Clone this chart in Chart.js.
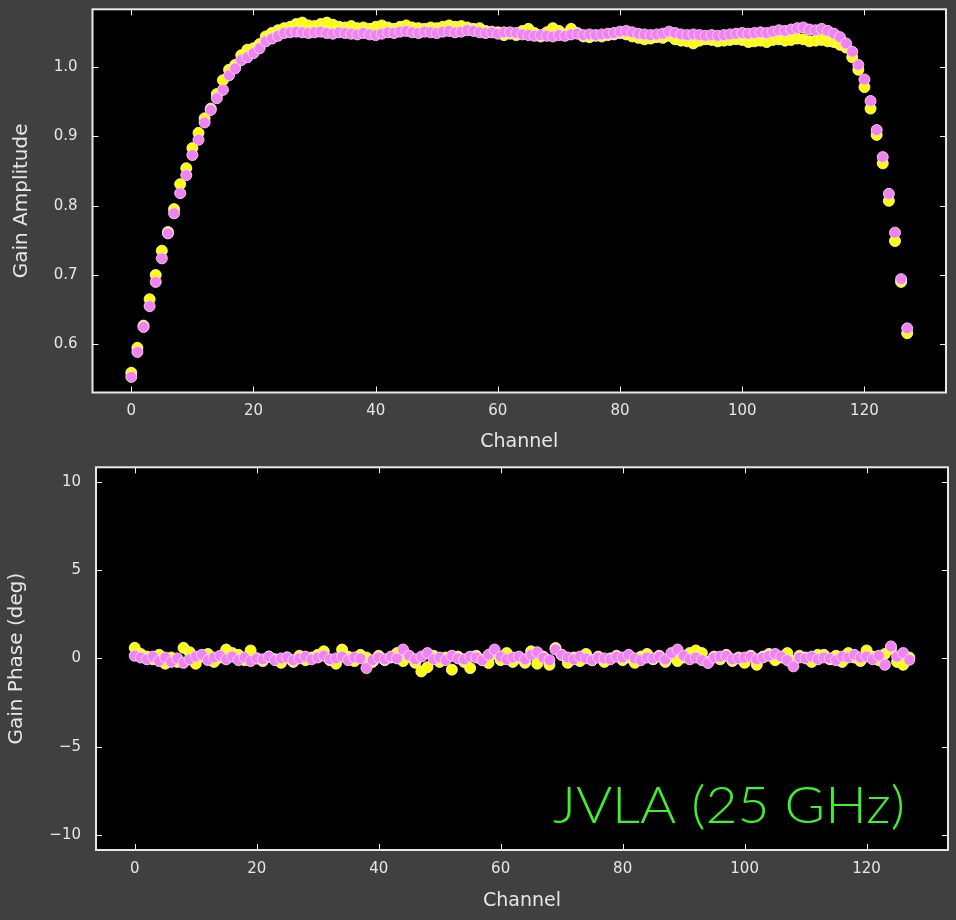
<!DOCTYPE html>
<html>
<head>
<meta charset="utf-8">
<script src="https://cdn.jsdelivr.net/npm/chart.js@4.4.1/dist/chart.umd.min.js"></script>
<style>
  html, body { margin: 0; padding: 0; background: #404040; }
  #wrap { position: relative; width: 956px; height: 920px; background: #404040; }
  canvas { position: absolute; left: 0; }
  #ampCanvas { top: 0; }
  #phaseCanvas { top: 460px; }
</style>
</head>
<body>
<div id="wrap">
  <canvas id="ampCanvas" width="956" height="460"></canvas>
  <canvas id="phaseCanvas" width="956" height="460"></canvas>
</div>
<script>
// Spectral channels 0..127
const channels = Array.from({length: 128}, (_, i) => i);

// Bandpass gain amplitude, polarisation 1 (yellow)
const ampPol1 = [
  0.559,0.595,0.627,0.665,0.700,0.735,0.762,0.795,0.831,0.854,0.883,0.905,0.926,0.940,0.961,0.981,
  0.996,1.003,1.017,1.025,1.027,1.033,1.044,1.049,1.053,1.056,1.058,1.062,1.064,1.060,1.059,1.062,
  1.064,1.061,1.058,1.057,1.059,1.056,1.057,1.055,1.058,1.060,1.057,1.055,1.058,1.060,1.057,1.056,
  1.055,1.057,1.056,1.058,1.060,1.058,1.059,1.057,1.055,1.056,1.052,1.051,1.050,1.046,1.048,1.046,
  1.052,1.055,1.049,1.044,1.050,1.056,1.052,1.047,1.055,1.049,1.044,1.043,1.045,1.044,1.046,1.047,
  1.049,1.047,1.044,1.042,1.040,1.041,1.043,1.042,1.045,1.040,1.038,1.037,1.034,1.038,1.040,1.039,
  1.037,1.038,1.039,1.040,1.039,1.036,1.037,1.038,1.036,1.039,1.040,1.038,1.039,1.041,1.040,1.037,
  1.038,1.039,1.037,1.036,1.032,1.028,1.014,0.996,0.971,0.940,0.902,0.861,0.807,0.749,0.690,0.616
];

// Bandpass gain amplitude, polarisation 2 (violet)
const ampPol2 = [
  0.553,0.589,0.625,0.655,0.690,0.724,0.760,0.789,0.818,0.844,0.873,0.895,0.920,0.938,0.955,0.967,
  0.988,0.998,1.010,1.014,1.020,1.027,1.037,1.041,1.045,1.049,1.050,1.051,1.050,1.049,1.050,1.051,
  1.049,1.048,1.050,1.049,1.048,1.047,1.049,1.047,1.046,1.048,1.050,1.049,1.051,1.052,1.050,1.049,
  1.051,1.050,1.049,1.051,1.052,1.050,1.051,1.053,1.052,1.050,1.049,1.050,1.048,1.050,1.050,1.049,
  1.047,1.046,1.045,1.046,1.045,1.044,1.046,1.045,1.047,1.048,1.046,1.047,1.046,1.047,1.048,1.049,
  1.051,1.052,1.050,1.048,1.047,1.046,1.047,1.048,1.051,1.049,1.047,1.046,1.047,1.046,1.045,1.046,
  1.045,1.046,1.047,1.048,1.049,1.048,1.049,1.050,1.049,1.051,1.053,1.052,1.054,1.056,1.057,1.054,
  1.053,1.055,1.052,1.048,1.043,1.034,1.022,1.003,0.982,0.951,0.909,0.870,0.817,0.761,0.694,0.623
];

// Bandpass gain phase in degrees, polarisation 1 (yellow)
const phasePol1 = [
  0.60,0.25,0.10,-0.05,0.20,-0.30,0.05,-0.20,0.60,0.35,-0.30,0.10,0.25,-0.20,0.05,0.50,
  0.30,0.20,-0.10,0.45,0.00,-0.15,0.10,-0.05,-0.25,0.05,-0.20,0.15,-0.10,0.05,0.20,0.40,
  -0.10,-0.30,0.50,0.10,-0.15,0.20,0.05,-0.20,0.15,-0.10,0.05,0.30,-0.15,0.10,-0.25,-0.74,
  -0.50,0.15,-0.20,0.05,-0.64,0.10,-0.20,-0.55,0.15,-0.10,-0.26,0.25,-0.10,0.30,-0.20,0.05,
  -0.25,0.40,-0.30,0.10,-0.36,0.59,0.20,-0.25,0.05,-0.15,0.25,-0.10,0.10,-0.20,0.00,0.15,
  -0.10,0.05,-0.25,0.10,0.25,-0.05,0.15,-0.20,0.10,-0.15,0.05,0.30,0.45,0.30,-0.20,0.10,
  -0.05,0.20,-0.15,0.05,-0.25,0.15,-0.36,0.10,0.25,-0.10,0.05,0.30,-0.15,0.15,0.05,-0.20,
  0.20,0.20,-0.05,0.15,-0.20,0.30,0.05,-0.15,0.45,0.10,-0.10,0.25,0.55,-0.20,-0.36,0.05
];

// Bandpass gain phase in degrees, polarisation 2 (violet)
const phasePol2 = [
  0.15,0.05,-0.05,0.10,-0.15,0.05,-0.20,0.00,-0.25,-0.05,0.10,0.20,-0.10,0.05,0.15,-0.05,
  0.10,-0.10,0.05,-0.15,0.00,-0.05,0.10,-0.10,0.00,0.05,-0.10,0.00,0.10,-0.05,0.05,0.15,
  -0.05,0.00,0.10,-0.10,0.05,0.00,-0.55,-0.10,0.05,-0.05,0.10,0.00,0.50,0.15,-0.05,0.10,
  0.30,-0.05,0.05,-0.10,0.15,0.00,-0.05,0.10,0.05,-0.10,0.20,0.50,0.10,-0.05,0.05,0.10,
  -0.05,0.20,0.35,0.05,-0.10,0.50,0.20,0.05,-0.05,0.10,0.00,-0.10,0.05,0.00,-0.05,0.10,
  0.05,0.20,0.00,-0.10,0.05,0.00,0.10,-0.05,0.30,0.50,0.15,-0.05,0.05,-0.10,-0.26,0.05,
  0.10,0.15,-0.05,0.00,0.05,0.10,-0.05,0.05,0.15,0.25,0.10,-0.10,-0.45,0.05,0.00,0.10,
  -0.05,0.05,0.00,-0.10,0.10,0.05,0.20,0.05,0.10,-0.05,0.15,-0.36,0.68,0.10,0.30,-0.08
];

// Tick values
const channelTicks = [0, 20, 40, 60, 80, 100, 120];
const ampTicks = [0.6, 0.7, 0.8, 0.9, 1.0];
const phaseTicks = [-10, -5, 0, 5, 10];

const YELLOW = '#ffff00';
const VIOLET = '#f282f2';
const TEXT = '#e6e6e6';
const FONT = "'DejaVu Sans', sans-serif";

function points(ys) { return channels.map((c, i) => ({x: c, y: ys[i]})); }

function series(label, ys, fill, edge) {
  return {
    label, data: points(ys), showLine: false,
    pointStyle: 'circle', pointRadius: 5.5, pointBorderWidth: 1,
    pointBackgroundColor: fill, pointBorderColor: edge
  };
}

// Black axes face, white frame and inward tick marks on all four sides
const framePlugin = {
  id: 'frame',
  beforeDatasetsDraw(chart) {
    const {ctx, chartArea: a} = chart;
    ctx.save();
    ctx.fillStyle = '#000';
    ctx.fillRect(a.left, a.top, a.right - a.left, a.bottom - a.top);
    ctx.restore();
  },
  afterDraw(chart) {
    const {ctx, chartArea: a, scales} = chart;
    const len = 6;
    ctx.save();
    ctx.strokeStyle = '#f0f0f0';
    ctx.lineWidth = 1;
    ctx.beginPath();
    scales.x.ticks.forEach(t => {
      const px = Math.round(scales.x.getPixelForValue(t.value)) + 0.5;
      ctx.moveTo(px, a.bottom); ctx.lineTo(px, a.bottom - len);
      ctx.moveTo(px, a.top); ctx.lineTo(px, a.top + len);
    });
    scales.y.ticks.forEach(t => {
      const py = Math.round(scales.y.getPixelForValue(t.value)) + 0.5;
      ctx.moveTo(a.left, py); ctx.lineTo(a.left + len, py);
      ctx.moveTo(a.right, py); ctx.lineTo(a.right - len, py);
    });
    ctx.stroke();
    ctx.lineWidth = 2;
    ctx.strokeStyle = '#e8e8e8';
    ctx.strokeRect(a.left, a.top, a.right - a.left, a.bottom - a.top);
    ctx.restore();
  }
};

// Instrument annotation inside the phase panel, stretched to its set width
const labelPlugin = {
  id: 'instrumentLabel',
  afterDraw(chart, args, opts) {
    if (!opts.text) return;
    const {ctx} = chart;
    ctx.save();
    ctx.fillStyle = '#3ef22c';
    ctx.font = "300 51px Lato, 'DejaVu Sans', sans-serif";
    ctx.textAlign = 'left';
    ctx.textBaseline = 'alphabetic';
    const w = ctx.measureText(opts.text).width;
    ctx.translate(opts.right - opts.width, opts.y);
    ctx.scale(opts.width / w, 1);
    ctx.fillText(opts.text, 0, 0);
    ctx.restore();
  }
};

function makeChart(canvasId, cfg) {
  return new Chart(document.getElementById(canvasId), {
    type: 'scatter',
    data: { datasets: cfg.datasets },
    plugins: [framePlugin, labelPlugin],
    options: {
      responsive: false,
      animation: false,
      devicePixelRatio: 1,
      layout: { padding: cfg.padding },
      plugins: {
        legend: { display: false },
        tooltip: { enabled: false },
        instrumentLabel: cfg.label || {}
      },
      scales: {
        x: {
          type: 'linear', min: -6.35, max: 133.35,
          afterFit(s) { s.height = 66; s.paddingLeft = 0; s.paddingRight = 0; },
          afterBuildTicks(s) { s.ticks = channelTicks.map(v => ({value: v})); },
          grid: { display: false, drawTicks: false },
          border: { display: false },
          ticks: { color: TEXT, font: { family: FONT, size: 15 }, padding: 10, maxRotation: 0 },
          title: { display: true, text: 'Channel', color: TEXT,
                   font: { family: FONT, size: 19 }, padding: { top: 0, bottom: cfg.xTitlePad } }
        },
        y: {
          type: 'linear', min: cfg.yMin, max: cfg.yMax,
          afterFit(s) { s.width = cfg.yWidth; s.paddingTop = 0; s.paddingBottom = 0; },
          afterBuildTicks(s) { s.ticks = cfg.yTicks.map(v => ({value: v})); },
          grid: { display: false, drawTicks: false },
          border: { display: false },
          ticks: { color: TEXT, font: { family: FONT, size: 15 }, padding: 15,
                   callback: cfg.yFormat },
          title: { display: true, text: cfg.yTitle, color: TEXT,
                   font: { family: FONT, size: 20 }, padding: { top: cfg.yTitlePad, bottom: 0 } }
        }
      }
    }
  });
}

makeChart('ampCanvas', {
  datasets: [
    series('pol 2', ampPol2, VIOLET, 'rgba(255,215,255,0.85)'),
    series('pol 1', ampPol1, YELLOW, 'rgba(255,255,200,0.85)')
  ],
  padding: { left: 0, top: 9.3, right: 10, bottom: 1.5 },
  yMin: 0.5305, yMax: 1.0832,
  yTicks: ampTicks,
  yWidth: 92.5,
  yTitle: 'Gain Amplitude',
  yTitlePad: 10,
  xTitlePad: 5,
  yFormat: v => v.toFixed(1)
});

makeChart('phaseCanvas', {
  datasets: [
    series('pol 2', phasePol2, VIOLET, 'rgba(255,215,255,0.85)'),
    series('pol 1', phasePol1, YELLOW, 'rgba(255,255,200,0.85)')
  ],
  padding: { left: 0, top: 7.3, right: 8, bottom: 4 },
  yMin: -10.85, yMax: 10.82,
  yTicks: phaseTicks,
  yWidth: 96,
  yTitle: 'Gain Phase (deg)',
  yTitlePad: 5,
  xTitlePad: 4,
  yFormat: v => (v < 0 ? '\u2212' + Math.abs(v) : String(v)),
  label: { text: 'JVLA (25 GHz)', right: 905, width: 352, y: 363 }
});
</script>
</body>
</html>
